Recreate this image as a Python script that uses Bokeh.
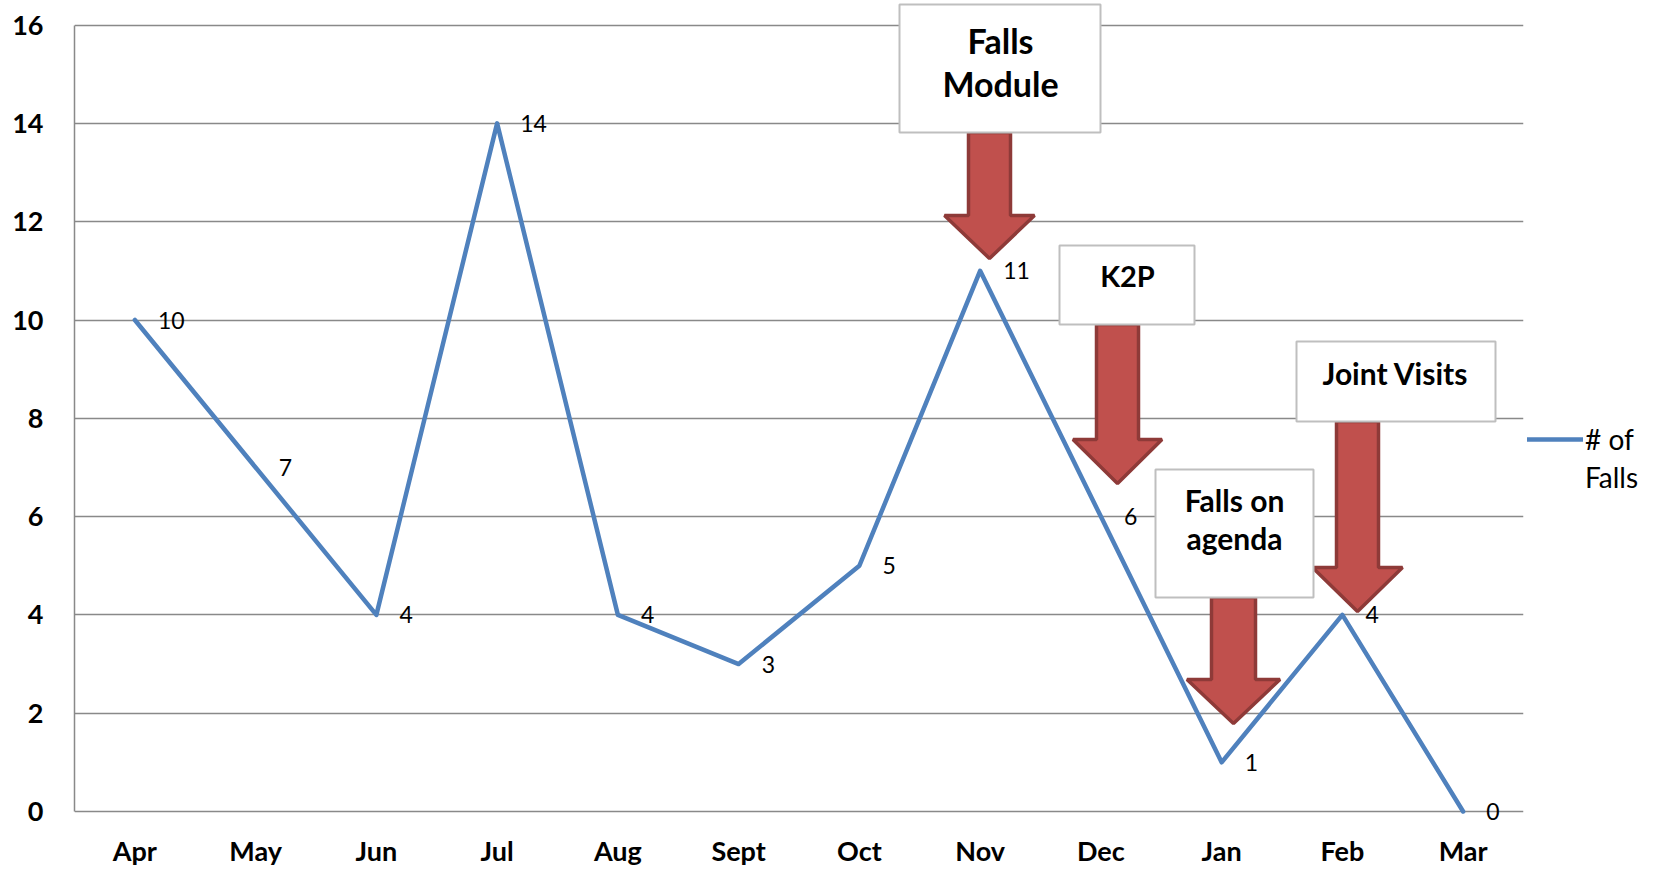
from bokeh.plotting import figure
from bokeh.models import (FactorRange, Range1d, FixedTicker, Label, LabelSet,
                          ColumnDataSource, BoxAnnotation, PolyAnnotation,
                          Legend, LegendItem)
from bokeh.core.properties import value
from bokeh.embed import file_html
from bokeh.resources import INLINE

# ---------------- data ----------------
months = ["Apr", "May", "Jun", "Jul", "Aug", "Sept", "Oct", "Nov", "Dec", "Jan", "Feb", "Mar"]
falls = [10, 7, 4, 14, 4, 3, 5, 11, 6, 1, 4, 0]
y_ticks = [0, 2, 4, 6, 8, 10, 12, 14, 16]
legend_lines = ["# of", "Falls"]          # series name "# of Falls", wrapped as in the reference
note_texts = [["Falls", "Module"], ["K2P"], ["Falls on", "agenda"], ["Joint Visits"]]

# ---------------- layout (pixel geometry of the reference page) ----------------
PLOT_L, PLOT_W = 74, 1449          # category band area
ZERO_Y, UNIT_H = 811, 49.15        # pixel row of value 0, pixels per unit
FRAME_T, FRAME_B = 2, 834          # frame reaches above 16 / below 0 so notes are not clipped
N = len(months)
CAT_W = PLOT_W / N

def dx(px):
    return (px - PLOT_L) / CAT_W

def dy(py):
    return (ZERO_Y - py) / UNIT_H

# boxes: (left, right, top, bottom) ; text line centres: (x, [y...]) ; font sizes
# arrows: (centre x, shaft half-width, head half-width, top y, head-base y, tip y)
note_boxes = [(899, 1100, 4, 132), (1059, 1194, 245, 324), (1155, 1313, 469, 597), (1296, 1495, 341, 421)]
note_text_pos = [(1000, [40, 83]), (1127, [275]), (1234, [499, 537]), (1395, [372])]
note_font_sizes = ["34px", "29px", "30px", "30px"]
note_arrows = [(989, 21, 45, 132, 215, 258), (1117, 21, 44.5, 324, 439, 483),
               (1233, 22, 46.5, 597, 679, 723), (1357, 21, 45, 421, 567, 611)]

FONT = "Lato"
LINE_COLOR = "#4F81BD"
GRID_COLOR = "#898989"

p = figure(x_range=FactorRange(*months, range_padding=0, factor_padding=0),
           y_range=Range1d(dy(FRAME_B), dy(FRAME_T)),
           frame_width=PLOT_W, frame_height=FRAME_B - FRAME_T,
           min_border_left=PLOT_L, min_border_top=FRAME_T, min_border_right=130,
           min_border_bottom=32,
           output_backend="svg", toolbar_location=None, background_fill_color="white",
           border_fill_color="white")
p.outline_line_color = None

src = ColumnDataSource(dict(month=months, falls=falls, lbl=[str(v) for v in falls]))
line_r = p.line(x="month", y="falls", source=src, line_color=LINE_COLOR, line_width=4.5,
                line_join="round", line_cap="round")
blank_r = p.line(x=[], y=[], line_alpha=0)

labels = LabelSet(x="month", y="falls", text="lbl", source=src, x_offset=23, y_offset=0,
                  text_baseline="middle", text_align="left",
                  text_font=value(FONT), text_font_size="23px", text_color="black")
p.add_layout(labels)

# axes
p.yaxis.ticker = FixedTicker(ticks=y_ticks)
p.yaxis.bounds = (y_ticks[0], y_ticks[-1])
p.yaxis.major_tick_out = 0
p.yaxis.major_tick_in = 0
p.yaxis.minor_tick_out = 0
p.yaxis.minor_tick_in = 0
p.yaxis.major_label_standoff = 31
p.yaxis.axis_line_color = GRID_COLOR
p.yaxis.axis_line_width = 1.5
p.yaxis.major_label_text_font = FONT
p.yaxis.major_label_text_font_style = "bold"
p.yaxis.major_label_text_font_size = "27px"
p.yaxis.major_label_text_color = "black"

p.xaxis.major_tick_out = 0
p.xaxis.major_tick_in = 0
p.xaxis.major_label_standoff = -1
p.xaxis.axis_line_color = None
p.xaxis.major_label_text_font = FONT
p.xaxis.major_label_text_font_style = "bold"
p.xaxis.major_label_text_font_size = "27px"
p.xaxis.major_label_text_color = "black"

p.xgrid.grid_line_color = None
p.ygrid.ticker = FixedTicker(ticks=y_ticks)
p.ygrid.grid_line_color = GRID_COLOR
p.ygrid.grid_line_width = 1.5

# arrows (drawn first, boxes on top)
for (cx, sh, hh, top, base, tip) in note_arrows:
    xs = [cx - sh, cx + sh, cx + sh, cx + hh, cx, cx - hh, cx - sh]
    ys = [top, top, base, base, tip, base, base]
    p.add_layout(PolyAnnotation(xs=[dx(v) for v in xs], ys=[dy(v) for v in ys],
                                fill_color="#C0504D", fill_alpha=1.0,
                                line_color="#8E3A38", line_width=3.5, line_alpha=1.0))

for (l, r, t, b) in note_boxes:
    p.add_layout(BoxAnnotation(left=dx(l), right=dx(r), top=dy(t), bottom=dy(b),
                               fill_color="white", fill_alpha=1.0,
                               line_color="#BFBFBF", line_width=2, line_alpha=1.0))

for lines, (tx, tys), fs in zip(note_texts, note_text_pos, note_font_sizes):
    for txt, ty in zip(lines, tys):
        p.add_layout(Label(x=dx(tx), y=dy(ty), text=txt, text_align="center",
                           text_baseline="middle", text_font=FONT, text_font_style="bold",
                           text_font_size=fs, text_color="black"))

# legend (outside the frame, on the right)
legend = Legend(items=[LegendItem(label=legend_lines[0], renderers=[line_r]),
                       LegendItem(label=legend_lines[1], renderers=[blank_r])],
                location=(4, FRAME_B - 494),
                padding=0, margin=0, spacing=4, glyph_width=56, glyph_height=32,
                label_height=32, label_standoff=2,
                label_text_font=FONT, label_text_font_size="28px", label_text_color="black",
                border_line_color=None, background_fill_alpha=0)
p.add_layout(legend, "right")

open("out.html", "w").write(file_html(p, INLINE))
